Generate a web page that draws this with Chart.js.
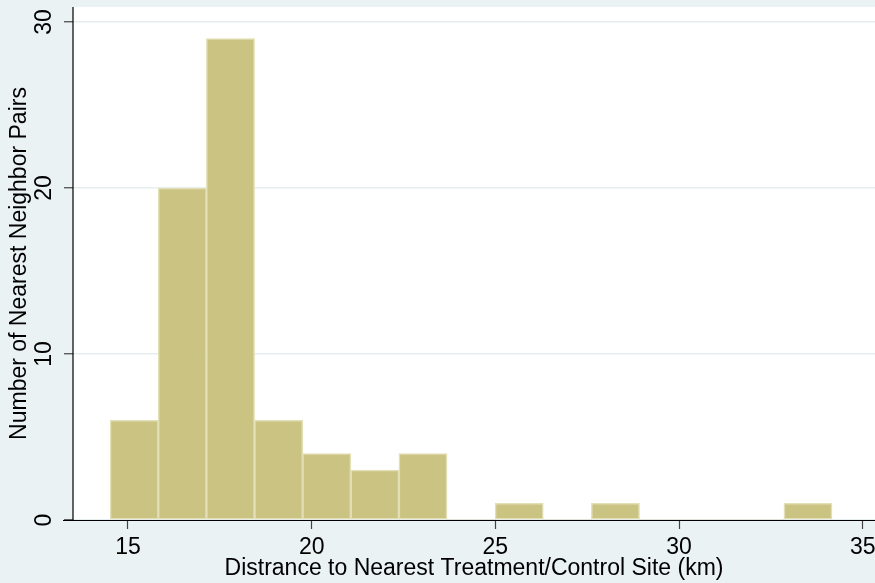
<!DOCTYPE html>
<html>
<head>
<meta charset="utf-8">
<script src="https://cdn.jsdelivr.net/npm/chart.js@4.4.1/dist/chart.umd.min.js"></script>
<style>
  html, body { margin: 0; padding: 0; background: #EAF2F3; }
  #wrap { width: 875px; height: 583px; }
</style>
</head>
<body>
<div id="wrap"><canvas id="hist"></canvas></div>
<script>
// histogram bins (centre of each bin, km) and counts
const binCenters = [15.17, 16.48, 17.79, 19.10, 20.41, 21.72, 23.03, 24.34, 25.65, 26.96, 28.27, 29.58, 30.89, 32.20, 33.51];
const pairCounts = [6, 20, 29, 6, 4, 3, 4, 0, 1, 0, 1, 0, 0, 0, 1];
const xTicks = [15, 20, 25, 30, 35];
const yTicks = [0, 10, 20, 30];

const font = { family: '"Liberation Sans", Arial, sans-serif', size: 23, lineHeight: 1.2 };

// background + white plot region, axis lines, rotated y labels
const stataLook = {
    id: 'stataLook',
    beforeDraw(chart) {
        const { ctx, chartArea } = chart;
        ctx.save();
        ctx.fillStyle = '#EAF2F3';
        ctx.fillRect(0, 0, chart.width, chart.height);
        ctx.fillStyle = '#ffffff';
        ctx.fillRect(chartArea.left, chartArea.top, chartArea.right - chartArea.left, chartArea.bottom - chartArea.top);
        ctx.restore();
    },
    afterDatasetsDraw(chart) {
        const { ctx, chartArea } = chart;
        ctx.save();
        ctx.strokeStyle = '#000';
        ctx.lineWidth = 1.2;
        ctx.beginPath();
        ctx.moveTo(chartArea.left, chartArea.top);
        ctx.lineTo(chartArea.left, chartArea.bottom + 0.5);
        ctx.moveTo(chartArea.left - 10, chartArea.bottom + 0.5);
        ctx.lineTo(chart.width, chartArea.bottom + 0.5);
        ctx.stroke();

        const y = chart.scales.y;
        ctx.fillStyle = '#000';
        ctx.font = font.size + 'px ' + font.family;
        ctx.textAlign = 'center';
        ctx.textBaseline = 'middle';
        yTicks.forEach(v => {
            ctx.save();
            ctx.translate(45, y.getPixelForValue(v));
            ctx.rotate(-Math.PI / 2);
            ctx.fillText(String(v), 0, 0);
            ctx.restore();
        });
        ctx.restore();
    }
};

new Chart(document.getElementById('hist'), {
    type: 'bar',
    data: {
        datasets: [{
            data: binCenters.map((c, i) => ({ x: c, y: pairCounts[i] })),
            backgroundColor: 'rgb(202, 195, 130)',
            borderColor: 'rgb(226, 222, 182)',
            borderWidth: ctx => (ctx.raw && ctx.raw.y ? 1.5 : 0),
            borderSkipped: false,
            barPercentage: 1,
            categoryPercentage: 1
        }]
    },
    options: {
        responsive: true,
        maintainAspectRatio: false,
        animation: false,
        layout: { padding: { top: 7, left: 0, right: 0, bottom: 0 } },
        plugins: {
            legend: { display: false },
            tooltip: { enabled: false }
        },
        scales: {
            x: {
                type: 'linear',
                min: 13.503,
                max: 35.335,
                offset: false,
                afterBuildTicks: s => { s.ticks = xTicks.map(v => ({ value: v })); },
                afterFit: s => { s.height = 63; s.paddingLeft = 0; s.paddingRight = 0; },
                grid: { display: true, offset: false, drawOnChartArea: false, drawTicks: true, tickLength: 9, tickColor: '#444', tickWidth: 1.2 },
                border: { display: false },
                ticks: { color: '#000', font: font, padding: 5, maxRotation: 0, autoSkip: false },
                title: {
                    display: true,
                    text: 'Distrance to Nearest Treatment/Control Site (km)',
                    color: '#000',
                    font: font,
                    padding: { top: 0, bottom: 0.5 }
                }
            },
            y: {
                min: 0,
                max: 30.9,
                afterBuildTicks: s => { s.ticks = yTicks.map(v => ({ value: v })); },
                afterFit: s => { s.width = 73; },
                grid: { color: '#E6EEF0', lineWidth: 1.5, tickLength: 9, tickColor: '#444', tickWidth: 1.2 },
                border: { display: false },
                ticks: { display: false },
                title: {
                    display: true,
                    text: 'Number of Nearest Neighbor Pairs',
                    color: '#000',
                    font: font,
                    padding: { top: 6, bottom: 0 }
                }
            }
        }
    },
    plugins: [stataLook]
});
</script>
</body>
</html>
